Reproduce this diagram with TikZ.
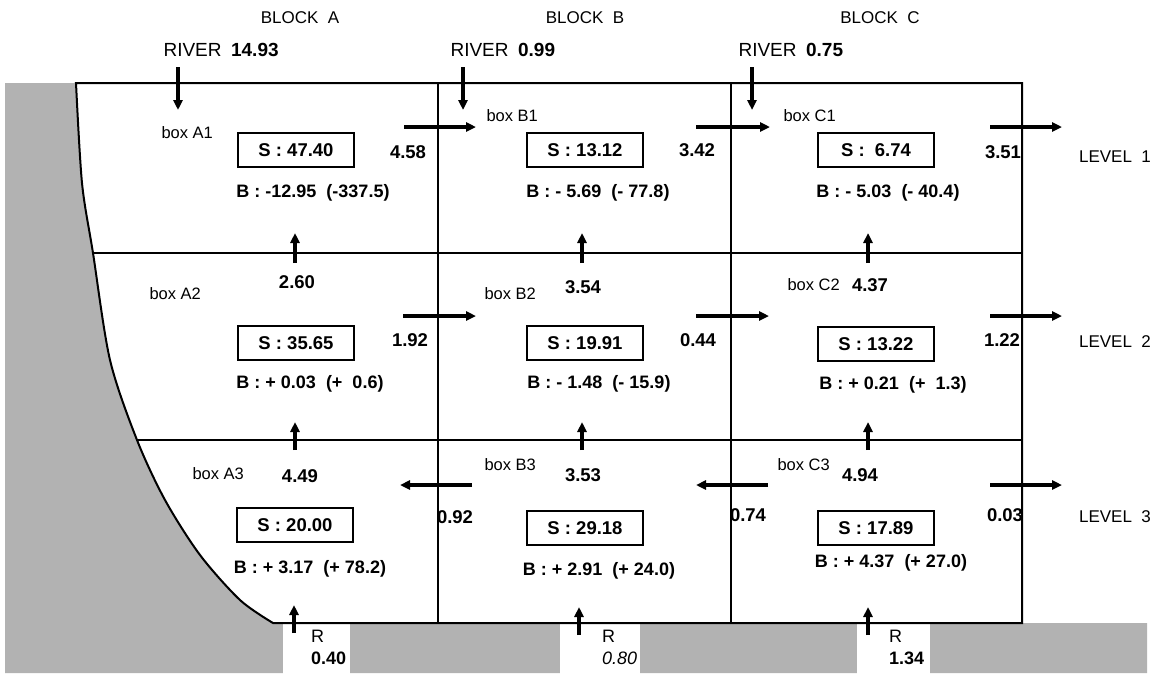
\documentclass[tikz,border=0pt]{standalone}
\usepackage{fontspec}
\setmainfont{Liberation Sans}
\usetikzlibrary{arrows.meta}
\definecolor{land}{gray}{0.70}
\tikzset{
  flow/.style={line width=3.5pt,-{Triangle[length=10pt,width=9pt]}},
  wall/.style={line width=2pt},
  cell/.style={line width=1.4pt},
  sbox/.style={draw,line width=1.6pt,minimum width=116pt,minimum height=34pt,
    inner sep=0pt,font=\fontsize{18.5}{20}\selectfont\bfseries},
  bal/.style={font=\fontsize{18}{20}\selectfont\bfseries},
  num/.style={font=\fontsize{18.5}{20}\selectfont\bfseries},
  lab/.style={font=\fontsize{16.5}{18}\selectfont},
  riv/.style={font=\fontsize{19}{20}\selectfont,anchor=west},
  head/.style={font=\fontsize{17}{19}\selectfont},
  rlab/.style={font=\fontsize{18}{21}\selectfont,align=left,inner sep=0pt,anchor=north west},
}
\begin{document}
\begin{tikzpicture}[x=1pt,y=-1pt]
  \useasboundingbox (0,0) rectangle (1165,675);
  % land and sea bed
  \fill[land] (5,83) -- plot[smooth] coordinates {(76,83) (82,183) (93,253) (110,360) (137,440)
      (165,500) (200,555) (240,600) (273,623)} -- (1147,623) -- (1147,673) -- (5,673) -- cycle;
  \fill[white] (283,624) rectangle (350,675);
  \fill[white] (560,624) rectangle (640,675);
  \fill[white] (857,624) rectangle (930,675);
  % outline and cells
  \draw[wall] plot[smooth] coordinates {(76,83) (82,183) (93,253) (110,360) (137,440)
      (165,500) (200,555) (240,600) (273,623)} -- (1022,623) -- (1022,83) -- cycle;
  \draw[cell] (438,83) -- (438,623);
  \draw[cell] (731,83) -- (731,623);
  \draw[cell] (93,253) -- (1022,253);
  \draw[cell] (137,440) -- (1022,440);

  % headings
  \node[head] (blkA) at (300,18) {BLOCK\ \ A};
  \node[head] (blkB) at (585,18) {BLOCK\ \ B};
  \node[head] (blkC) at (880,18) {BLOCK\ \ C};
  \node[riv] (rivA) at (160,50) {RIVER\enspace\textbf{14.93}};
  \node[riv] (rivB) at (447,50) {RIVER\enspace\textbf{0.99}};
  \node[riv] (rivC) at (735,50) {RIVER\enspace\textbf{0.75}};
  \node[head] (lev1) at (1115,157) {LEVEL\ \ 1};
  \node[head] (lev2) at (1115,342) {LEVEL\ \ 2};
  \node[head] (lev3) at (1115,517) {LEVEL\ \ 3};

  % box names
  \node[lab,anchor=west] (nA1) at (158,133) {box A1};
  \node[lab,anchor=west] (nB1) at (483,116) {box B1};
  \node[lab,anchor=west] (nC1) at (780,116) {box C1};
  \node[lab,anchor=west] (nA2) at (146,294) {box A2};
  \node[lab,anchor=west] (nB2) at (481,294) {box B2};
  \node[lab,anchor=west] (nC2) at (784,285) {box C2};
  \node[lab,anchor=west] (nA3) at (189,474) {box A3};
  \node[lab,anchor=west] (nB3) at (481,465) {box B3};
  \node[lab,anchor=west] (nC3) at (774,465) {box C3};

  % storage
  \node[sbox] (sA1) at (296,150) {S : 47.40};
  \node[sbox] (sB1) at (585,150) {S : 13.12};
  \node[sbox] (sC1) at (876,150) {S :\ \ 6.74};
  \node[sbox] (sA2) at (296,343) {S : 35.65};
  \node[sbox] (sB2) at (585,343) {S : 19.91};
  \node[sbox] (sC2) at (876,344) {S : 13.22};
  \node[sbox] (sA3) at (295,525) {S : 20.00};
  \node[sbox] (sB3) at (585,528) {S : 29.18};
  \node[sbox] (sC3) at (876,528) {S : 17.89};

  % balance
  \node[bal] (bA1) at (313,193) {B : -12.95\ \ (-337.5)};
  \node[bal] (bB1) at (598,193) {B : - 5.69\ \ (- 77.8)};
  \node[bal] (bC1) at (888,193) {B : - 5.03\ \ (- 40.4)};
  \node[bal] (bA2) at (310,384) {B : + 0.03\ \ (+\ \ 0.6)};
  \node[bal] (bB2) at (599,384) {B : - 1.48\ \ (- 15.9)};
  \node[bal] (bC2) at (893,385) {B : + 0.21\ \ (+\ \ 1.3)};
  \node[bal] (bA3) at (310,569) {B : + 3.17\ \ (+ 78.2)};
  \node[bal] (bB3) at (599,571) {B : + 2.91\ \ (+ 24.0)};
  \node[bal] (bC3) at (891,563) {B : + 4.37\ \ (+ 27.0)};

  % river inflow
  \coordinate (rA0) at (178,67);  \coordinate (rA1) at (178,110);
  \coordinate (rB0) at (463,67);  \coordinate (rB1) at (463,110);
  \coordinate (rC0) at (752,67);  \coordinate (rC1) at (752,110);
  \draw[flow] (rA0) -- (rA1);
  \draw[flow] (rB0) -- (rB1);
  \draw[flow] (rC0) -- (rC1);

  % horizontal flows
  \foreach \y/\a/\b in {127/404/476, 127/696/770, 127/990/1062,
                        316/403/476, 316/696/769, 316/990/1062,
                        485/472/400, 485/768/696, 485/990/1062}{
    \coordinate (h0) at (\a,\y);
    \coordinate (h1) at (\b,\y);
    \draw[flow] (h0) -- (h1);
  }
  % vertical flows
  \foreach \x/\a/\b in {295/263/233, 582/263/233, 868/263/233,
                        295/450/422, 582/450/422, 868/450/422,
                        294/633/605, 579/635/607, 868/635/607}{
    \coordinate (v0) at (\x,\a);
    \coordinate (v1) at (\x,\b);
    \draw[flow] (v0) -- (v1);
  }

  % flow values
  \node[num] (fA1) at (408,152) {4.58};
  \node[num] (fB1) at (697,150) {3.42};
  \node[num] (fC1) at (1003,152) {3.51};
  \node[num] (uA1) at (297,282) {2.60};
  \node[num] (uB1) at (583,287) {3.54};
  \node[num] (uC1) at (870,285) {4.37};
  \node[num] (fA2) at (410,340) {1.92};
  \node[num] (fB2) at (698,340) {0.44};
  \node[num] (fC2) at (1002,340) {1.22};
  \node[num] (uA2) at (300,476) {4.49};
  \node[num] (uB2) at (583,475) {3.53};
  \node[num] (uC2) at (860,475) {4.94};
  \node[num] (fA3) at (455,517) {0.92};
  \node[num] (fB3) at (748,515) {0.74};
  \node[num] (fC3) at (1005,515) {0.03};

  % runoff
  \node[rlab] (RA) at (311,630) {R\\[1pt]\textbf{0.40}};
  \node[rlab] (RB) at (602,630) {R\\[1pt]\textit{0.80}};
  \node[rlab] (RC) at (889,630) {R\\[1pt]\textbf{1.34}};
\end{tikzpicture}
\end{document}
